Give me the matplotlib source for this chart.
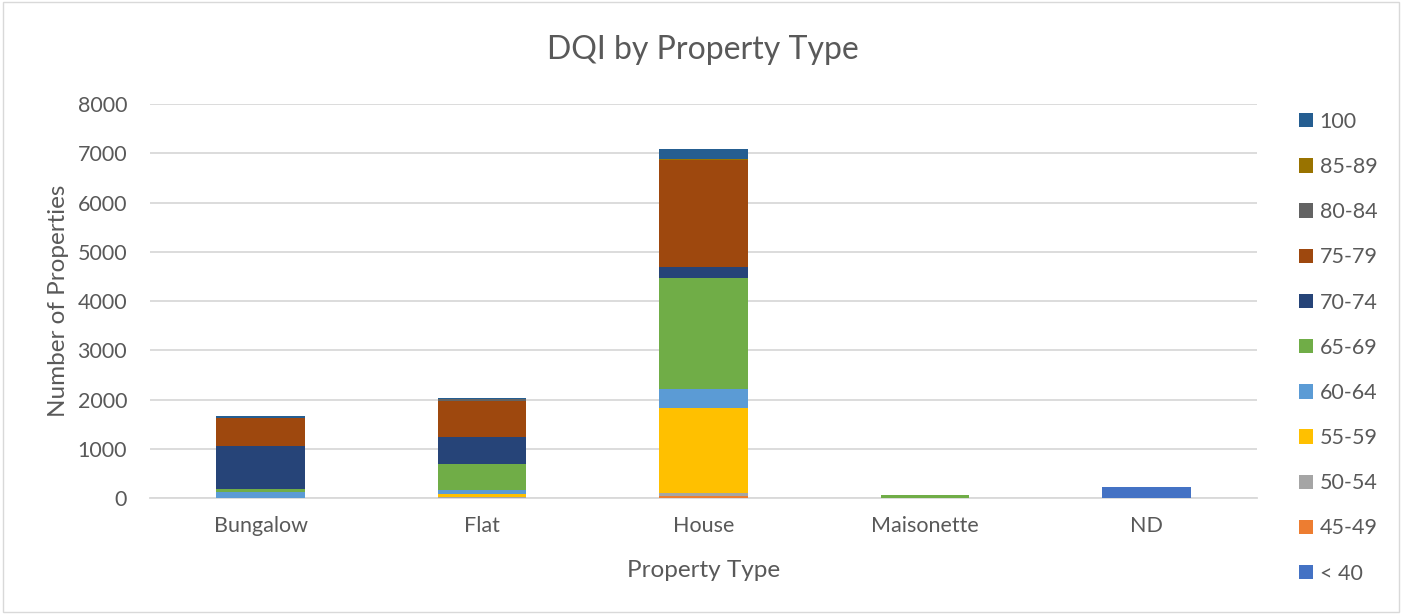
import numpy as np
import matplotlib
matplotlib.use('Agg')
import matplotlib.pyplot as plt
from matplotlib.patches import Rectangle

plt.rcParams['font.family'] = ['Lato', 'DejaVu Sans']

# property types on the x axis
types = ['Bungalow', 'Flat', 'House', 'Maisonette', 'ND']

# DQI bands, stacked bottom to top
bands = ['< 40', '45-49', '50-54', '55-59', '60-64', '65-69',
         '70-74', '75-79', '80-84', '85-89', '100']
lt40 = [0, 0, 0, 0, 230]
b45 = [0, 0, 50, 0, 0]
b50 = [0, 35, 60, 0, 0]
b55 = [0, 55, 1715, 0, 0]
b60 = [120, 75, 385, 0, 0]
b65 = [70, 527, 2250, 70, 0]
b70 = [870, 553, 243, 0, 0]
b75 = [567, 735, 2153, 0, 0]
b80 = [0, 25, 0, 0, 0]
b85 = [0, 0, 25, 0, 0]
b100 = [50, 30, 200, 0, 0]
series = [lt40, b45, b50, b55, b60, b65, b70, b75, b80, b85, b100]

colors = ['#4472C4', '#ED7D31', '#A5A5A5', '#FFC000', '#5B9BD5', '#70AD47',
          '#264478', '#9E480E', '#636363', '#997300', '#255E91']

fig = plt.figure(figsize=(14.05, 6.14), dpi=100)
ax = fig.add_axes([0.1068, 0.1884, 0.7879, 0.6422])

x = np.arange(len(types))
bottom = np.zeros(len(types))
handles = []
for name, vals, c in zip(bands, series, colors):
    h = ax.bar(x, vals, width=0.4, bottom=bottom, color=c, label=name,
               edgecolor='none', zorder=3)
    handles.append(h)
    bottom += np.array(vals)

ax.set_xlim(-0.5, len(types) - 0.5)
ax.set_ylim(0, 8000)
ax.set_yticks(range(0, 8001, 1000))
ax.set_xticks(x)
ax.set_xticklabels(types)
ax.yaxis.grid(True, color='#D9D9D9', linewidth=1.3, zorder=0)
for s in ['top', 'right', 'left']:
    ax.spines[s].set_visible(False)
ax.spines['bottom'].set_color('#D9D9D9')
ax.spines['bottom'].set_linewidth(1.3)
ax.tick_params(axis='both', length=0, labelsize=15.5, colors='#595959')
ax.tick_params(axis='y', pad=16.5)
ax.tick_params(axis='x', pad=13)

ax.set_xlabel('Property Type', fontsize=17.5, color='#595959', labelpad=17)
ax.set_ylabel('Number of Properties', fontsize=17.5, color='#595959', labelpad=6)
fig.text(0.5, 0.919, 'DQI by Property Type', ha='center', va='center',
         fontsize=23, color='#595959')

leg = fig.legend(handles[::-1], bands[::-1], loc='upper left',
                 bbox_to_anchor=(0.911, 0.8495), frameon=False, fontsize=15.5,
                 labelspacing=1.17, handlelength=0.65, handleheight=0.65,
                 handletextpad=0.3, labelcolor='#595959')

# light frame around the whole chart
fig.patches.append(Rectangle((0.002, 0.004), 0.994, 0.992, transform=fig.transFigure,
                             fill=False, edgecolor='#D9D9D9', linewidth=1))

fig.savefig('out.png', dpi=100)
